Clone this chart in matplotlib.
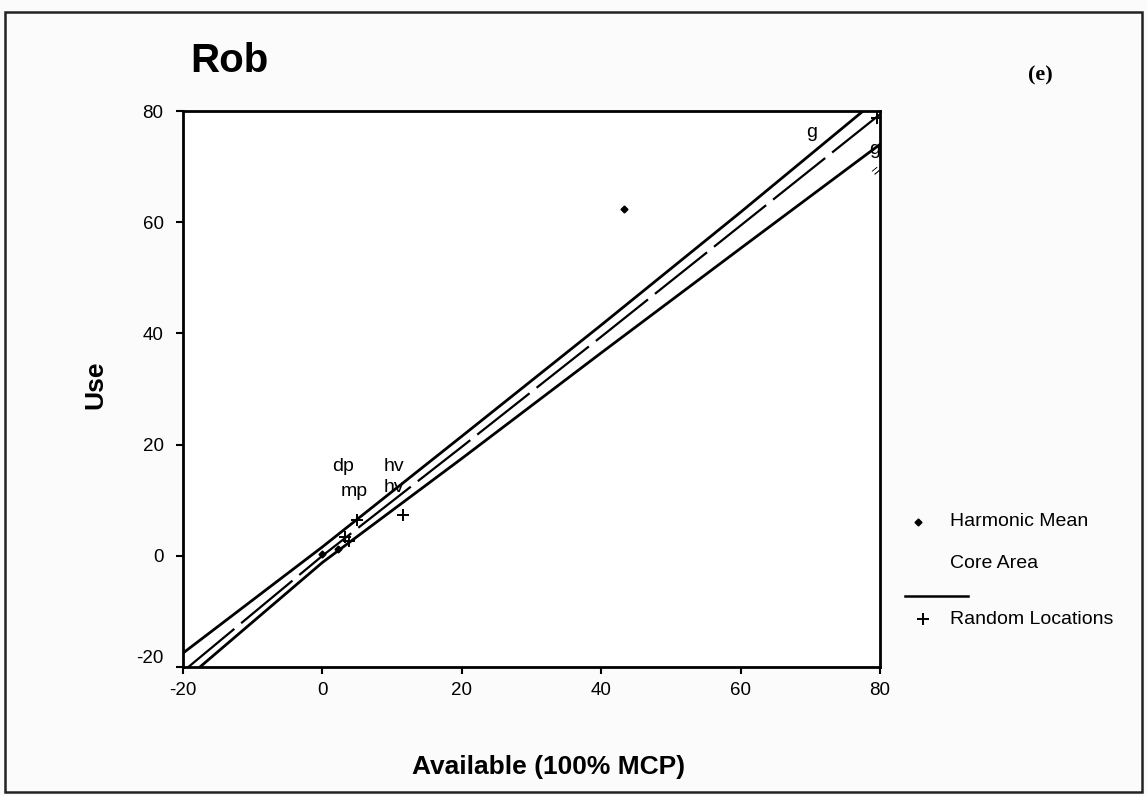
import matplotlib
matplotlib.use("Agg")
import matplotlib.pyplot as plt
from matplotlib.lines import Line2D
from matplotlib.patches import Rectangle

plt.rcParams['font.family'] = ['Liberation Sans', 'DejaVu Sans']
plt.rcParams['axes.unicode_minus'] = False

# regression line and band
band_x = [-20, 0, 20, 40, 60, 80]
upper_y = [-17.5, 1.6, 21.5, 41.5, 61.8, 82.5]
fit_y = [-20.8, 0.0, 19.6, 39.4, 59.4, 79.4]
lower_y = [-22.6, -1.2, 17.5, 36.5, 55.3, 74.0]

# harmonic mean core area points (diamonds)
harm_x = [0.0, 2.2, 43.3]
harm_y = [0.3, 1.2, 62.3]

# random location points (+)
rand_x = [3.2, 3.8, 5.0, 11.5, 79.6]
rand_y = [3.4, 2.6, 6.5, 7.3, 78.8]

# point labels
lab_text = ["dp", "mp", "hv", "hv", "g", "g"]
lab_x = [2.9, 4.6, 10.3, 10.3, 70.2, 79.2]
lab_y = [16.0, 11.5, 16.0, 12.2, 76.1, 73.1]

xticks = [-20, 0, 20, 40, 60, 80]
yticks = [-20, 0, 20, 40, 60, 80]

W, H = 1147, 796
fig = plt.figure(figsize=(W / 100, H / 100), dpi=100)
fig.patch.set_facecolor("#fbfbfb")

def fx(px):
    return px / W

def fy(py):
    return 1 - py / H

ax = fig.add_axes([fx(183), fy(667), fx(880) - fx(183), fy(111) - fy(667)])
ax.set_facecolor("white")

ax.plot(band_x, upper_y, color="black", lw=2)
ax.plot(band_x, lower_y, color="black", lw=2)
ax.plot(band_x, fit_y, color="black", lw=1.6, linestyle=(0, (30, 4)))

ax.plot(harm_x, harm_y, linestyle="none", marker="D", markersize=3.5, color="black")
ax.plot(rand_x, rand_y, linestyle="none", marker="+", markersize=8, mew=1.4, color="black")

for t, x, y in zip(lab_text, lab_x, lab_y):
    ax.text(x, y, t, fontsize=14, ha="center", va="center")
ax.text(79.5, 69.0, "=", fontsize=10, rotation=40, ha="center", va="center")

ax.set_xlim(-20, 80)
ax.set_ylim(-20, 80)
ax.set_xticks(xticks)
ax.set_yticks(yticks)
ax.tick_params(direction="out", length=5, width=1.5, labelsize=13.5)
ax.tick_params(axis="y", pad=9)
ax.tick_params(axis="x", pad=6)
# the scan has its lowest y label sitting above the corner
ax.get_yticklabels()[0].set_va("bottom")
for s in ax.spines.values():
    s.set_linewidth(2)

ax.set_xlabel("Available (100% MCP)", fontsize=19, fontweight="bold", va="center")
ax.xaxis.set_label_coords(0.524, -0.18)
ax.set_ylabel("Use", fontsize=19, fontweight="bold", va="center")
ax.yaxis.set_label_coords(-0.126, 0.507)

fig.text(fx(190), fy(61), "Rob", fontsize=29, fontweight="bold", ha="left", va="center")
fig.text(fx(1040), fy(75), "(e)", fontsize=16, fontweight="bold",
         family="Liberation Serif", ha="center", va="center")

# legend drawn at the right of the plot
fig.add_artist(Line2D([fx(918)], [fy(522)], marker="D", markersize=3.5, color="black"))
fig.text(fx(950), fy(522), "Harmonic Mean", fontsize=14, va="center")
fig.text(fx(950), fy(563), "Core Area", fontsize=14, va="center")
fig.add_artist(Line2D([fx(905), fx(968)], [fy(596), fy(596)], color="black", lw=1.8))
fig.add_artist(Line2D([fx(923)], [fy(619)], marker="+", markersize=8, mew=1.4, color="black"))
fig.text(fx(950), fy(619), "Random Locations", fontsize=14, va="center")

# scanned page border
fig.add_artist(Rectangle((fx(5), fy(792)), fx(1142) - fx(5), fy(12) - fy(792),
                         fill=False, edgecolor="#222222", lw=1.8, transform=fig.transFigure))

fig.savefig("out.png", dpi=100, facecolor=fig.get_facecolor())
